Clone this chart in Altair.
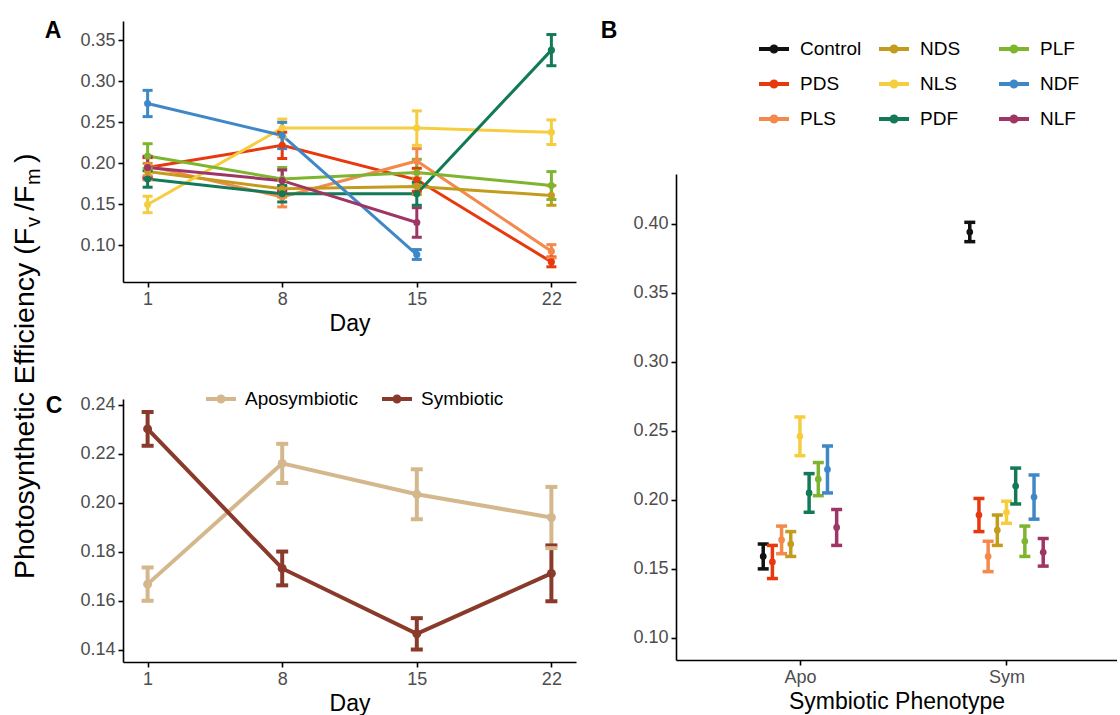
import altair as alt
import pandas as pd

FONT = "Liberation Sans"

# ---- treatment groups and their colours -------------------------------------
groups = ["Control", "PDS", "PLS", "NDS", "NLS", "PDF", "PLF", "NDF", "NLF"]
group_colors = ["#111111", "#E8380D", "#F4894B", "#C39B1D", "#F5CD3F",
                "#137A57", "#7DB52F", "#3F88C7", "#9F3565"]

days = [1, 8, 15, 22]

# ---- panel A: mean Fv/Fm per group and day (None = not measured) -----------
a_mean = {
    "PDS": [0.195, 0.222, 0.180, 0.080],
    "PLS": [0.197, 0.159, 0.203, 0.093],
    "NDS": [0.190, 0.169, 0.172, 0.161],
    "NLS": [0.150, 0.243, 0.243, 0.238],
    "PDF": [0.181, 0.163, 0.163, 0.338],
    "PLF": [0.209, 0.181, 0.189, 0.173],
    "NDF": [0.273, 0.234, 0.089, None],
    "NLF": [0.195, 0.179, 0.128, None],
}
a_se = {
    "PDS": [0.012, 0.016, 0.014, 0.006],
    "PLS": [0.012, 0.012, 0.015, 0.008],
    "NDS": [0.010, 0.010, 0.010, 0.012],
    "NLS": [0.010, 0.011, 0.021, 0.015],
    "PDF": [0.010, 0.010, 0.014, 0.019],
    "PLF": [0.015, 0.014, 0.016, 0.017],
    "NDF": [0.016, 0.016, 0.006, None],
    "NLF": [0.013, 0.013, 0.018, None],
}

# ---- panel B: mean Fv/Fm per group and phenotype ---------------------------
phenos_b = ["Apo", "Sym"]
b_apo_mean = [0.159, 0.155, 0.171, 0.168, 0.246, 0.205, 0.215, 0.222, 0.180]
b_apo_se = [0.009, 0.012, 0.010, 0.009, 0.014, 0.014, 0.012, 0.017, 0.013]
b_sym_mean = [0.394, 0.189, 0.159, 0.178, 0.191, 0.210, 0.170, 0.202, 0.162]
b_sym_se = [0.007, 0.012, 0.011, 0.011, 0.008, 0.013, 0.011, 0.016, 0.010]

# ---- panel C: mean Fv/Fm per phenotype and day -----------------------------
phenos_c = ["Aposymbiotic", "Symbiotic"]
pheno_colors = ["#D4B78C", "#8A3A2A"]
c_apo_mean = [0.1667, 0.2160, 0.2034, 0.1939]
c_apo_se = [0.0068, 0.0080, 0.0102, 0.0125]
c_sym_mean = [0.2301, 0.1731, 0.1464, 0.1711]
c_sym_se = [0.0069, 0.0069, 0.0064, 0.0114]

# ---- tables -----------------------------------------------------------------
rows = []
for g in a_mean:
    for d, m, s in zip(days, a_mean[g], a_se[g]):
        if m is not None:
            rows.append({"group": g, "day": d, "mean": m, "lo": m - s, "hi": m + s})
df_a = pd.DataFrame(rows)

DODGE = 0.4
rows = []
for pi, (means, ses) in enumerate([(b_apo_mean, b_apo_se), (b_sym_mean, b_sym_se)]):
    for k, (g, m, s) in enumerate(zip(groups, means, ses)):
        xpos = (pi + 1) + (k - (len(groups) - 1) / 2) * DODGE / len(groups)
        rows.append({"group": g, "pheno": phenos_b[pi], "xpos": xpos,
                     "mean": m, "lo": m - s, "hi": m + s})
df_b = pd.DataFrame(rows)

rows = []
for p, means, ses in [(phenos_c[0], c_apo_mean, c_apo_se), (phenos_c[1], c_sym_mean, c_sym_se)]:
    for d, m, s in zip(days, means, ses):
        rows.append({"pheno": p, "day": d, "mean": m, "lo": m - s, "hi": m + s})
df_c = pd.DataFrame(rows)

one = pd.DataFrame({"k": [0]})

# legend key: horizontal line with a dot in the middle
KEY = ("M-1,-0.13L1,-0.13L1,0.13L-1,0.13Z "
       "M-0.3,0A0.3,0.3 0 1,1 0.3,0A0.3,0.3 0 1,1 -0.3,0Z")


def helper(x1, x2, y):
    """White hairline that pins the layout bounds of a panel."""
    return alt.Chart(one).mark_rule(color="white", strokeWidth=1).encode(
        x=alt.value(x1), x2=alt.value(x2), y=alt.value(y))


def label(txt, x, y, size=23, bold=True, angle=0, align="center", baseline="middle"):
    kw = dict(text=txt, font=FONT, fontSize=size, color="black",
              align=align, baseline=baseline)
    if bold:
        kw["fontWeight"] = "bold"
    if angle:
        kw["angle"] = angle
    return alt.Chart(one).mark_text(**kw).encode(x=alt.value(x), y=alt.value(y))


def error_layers(df, xfield, xscale, yscale, color, lw, cap):
    xf = alt.X(f"{xfield}:Q", scale=xscale)
    bar = alt.Chart(df).mark_rule(strokeWidth=lw).encode(
        x=xf, y=alt.Y("lo:Q", scale=yscale), y2="hi:Q", color=color)
    top = alt.Chart(df).mark_rule(strokeWidth=lw, xOffset=-cap, x2Offset=cap).encode(
        x=xf, x2=alt.X2(xfield), y=alt.Y("hi:Q", scale=yscale), color=color)
    bot = alt.Chart(df).mark_rule(strokeWidth=lw, xOffset=-cap, x2Offset=cap).encode(
        x=xf, x2=alt.X2(xfield), y=alt.Y("lo:Q", scale=yscale), color=color)
    return [bar, top, bot]


# ---- left strip: shared y-axis title (with subscripts) and panel letters ----
TX, SX = 33, 39
strip = alt.layer(
    helper(0, 64, 0),
    label("Photosynthetic Efficiency (F", TX, 558, size=28.5, bold=False, angle=270,
          align="left", baseline="alphabetic"),
    label("v", SX, 206, size=20, bold=False, angle=270, align="left", baseline="alphabetic"),
    label("/F", TX, 190, size=28.5, bold=False, angle=270, align="left", baseline="alphabetic"),
    label("m", SX, 164, size=20, bold=False, angle=270, align="left", baseline="alphabetic"),
    label(")", TX, 142, size=28.5, bold=False, angle=270, align="left", baseline="alphabetic"),
    label("A", 52, 10),
    label("C", 53, 385),
).properties(width=1, height=1)

# ---- panel A ----------------------------------------------------------------
WA, HA = 453, 261
day_scale = alt.Scale(domain=[-0.28, 23.28], nice=False, zero=False)
xa = alt.X("day:Q", scale=day_scale,
           axis=alt.Axis(values=days, title="Day", format="d"))
ya_scale = alt.Scale(domain=[0.0555, 0.3735], nice=False, zero=False)
ya = alt.Y("mean:Q", scale=ya_scale,
           axis=alt.Axis(values=[0.10, 0.15, 0.20, 0.25, 0.30, 0.35], format=".2f", title=None))
col_a = alt.Color("group:N", scale=alt.Scale(domain=groups, range=group_colors), legend=None)

a_lines = alt.Chart(df_a).mark_line(strokeWidth=3).encode(x=xa, y=ya, color=col_a)
a_err = error_layers(df_a, "day", day_scale, ya_scale, col_a, 3, 5)
a_pts = alt.Chart(df_a).mark_point(filled=True, size=50, opacity=1).encode(x=xa, y=ya, color=col_a)

panel_a = alt.layer(
    helper(-56, 500, -20), helper(0, 1, 331),
    a_lines, *a_err, a_pts,
    label("B", 486, 10),
).properties(width=WA, height=HA)

# ---- panel C ----------------------------------------------------------------
HC = 263
yc_scale = alt.Scale(domain=[0.1349, 0.2423], nice=False, zero=False)
yc = alt.Y("mean:Q", scale=yc_scale,
           axis=alt.Axis(values=[0.14, 0.16, 0.18, 0.20, 0.22, 0.24], format=".2f", title=None))
col_c = alt.Color("pheno:N", scale=alt.Scale(domain=phenos_c, range=pheno_colors),
                  legend=alt.Legend(orient="none", legendX=83, legendY=-15, direction="horizontal",
                                    title=None, symbolType=KEY, symbolSize=900,
                                    symbolStrokeWidth=0, symbolOpacity=1,
                                    labelFont=FONT, labelFontSize=19, labelColor="black",
                                    labelOffset=9, columnPadding=24, padding=0))

c_key = alt.Chart(df_c).mark_point(filled=True, size=0, opacity=1).encode(x=xa, y=yc, color=col_c)
c_lines = alt.Chart(df_c).mark_line(strokeWidth=4).encode(x=xa, y=yc, color=col_c)
c_err = error_layers(df_c, "day", day_scale, yc_scale, col_c, 4, 6)
c_pts = alt.Chart(df_c).mark_point(filled=True, size=80, opacity=1).encode(x=xa, y=yc, color=col_c)

panel_c = alt.layer(
    c_key, helper(0, 1, -45),
    c_lines, *c_err, c_pts,
).properties(width=WA, height=HC)

# ---- panel B ----------------------------------------------------------------
WB, HB = 441, 486
xb_scale = alt.Scale(domain=[0.4, 2.535], nice=False, zero=False)
xb = alt.X("xpos:Q", scale=xb_scale,
           axis=alt.Axis(values=[1, 2], title="Symbiotic Phenotype",
                         labelExpr="datum.value == 1 ? 'Apo' : 'Sym'"))
yb_scale = alt.Scale(domain=[0.084, 0.436], nice=False, zero=False)
yb = alt.Y("mean:Q", scale=yb_scale,
           axis=alt.Axis(values=[0.10, 0.15, 0.20, 0.25, 0.30, 0.35, 0.40], format=".2f", title=None))
col_b = alt.Color("group:N", scale=alt.Scale(domain=groups, range=group_colors),
                  legend=alt.Legend(orient="none", legendX=83, legendY=-140, columns=3,
                                    title=None, symbolType=KEY, symbolSize=900,
                                    symbolStrokeWidth=0, symbolOpacity=1,
                                    labelFont=FONT, labelFontSize=19, labelColor="black",
                                    labelOffset=11, rowPadding=10, columnPadding=17,
                                    gridAlign="all", padding=0))

b_key = alt.Chart(df_b).mark_point(filled=True, size=0, opacity=1).encode(x=xb, y=yb, color=col_b)
b_err = error_layers(df_b, "xpos", xb_scale, yb_scale, col_b, 3.5, 5.5)
b_pts = alt.Chart(df_b).mark_point(filled=True, size=45, opacity=1).encode(x=xb, y=yb, color=col_b)

panel_b = alt.layer(
    b_key, helper(-51, -50, -151),
    *b_err, b_pts,
).properties(width=WB, height=HB)

# thin blank strip above panel B so its plot starts lower than panel A
spacer = alt.Chart(one).mark_rule(color="white", strokeWidth=1).encode(
    x=alt.value(0), x2=alt.value(1), y=alt.value(0)).properties(width=WB, height=1)

# ---- assemble ----------------------------------------------------------------
left = alt.vconcat(panel_a, panel_c, spacing=0).resolve_scale(color="independent")
right = alt.vconcat(spacer, panel_b, spacing=0).resolve_scale(color="independent")
chart = (
    alt.hconcat(strip, left, right, spacing=0)
    .resolve_scale(color="independent")
    .properties(padding=0, background="white")
    .configure_view(stroke=None)
    .configure_axis(
        grid=False,
        domainColor="black", domainWidth=1.6,
        tickColor="black", tickWidth=1.6, tickSize=5,
        labelFont=FONT, labelFontSize=18, labelColor="#4D4D4D", labelPadding=3,
        labelFlush=False,
        titleFont=FONT, titleFontSize=23, titleColor="black", titleFontWeight="normal",
        titlePadding=4,
    )
)

chart.save("out.html", embed_options={"renderer": "svg", "actions": False})
